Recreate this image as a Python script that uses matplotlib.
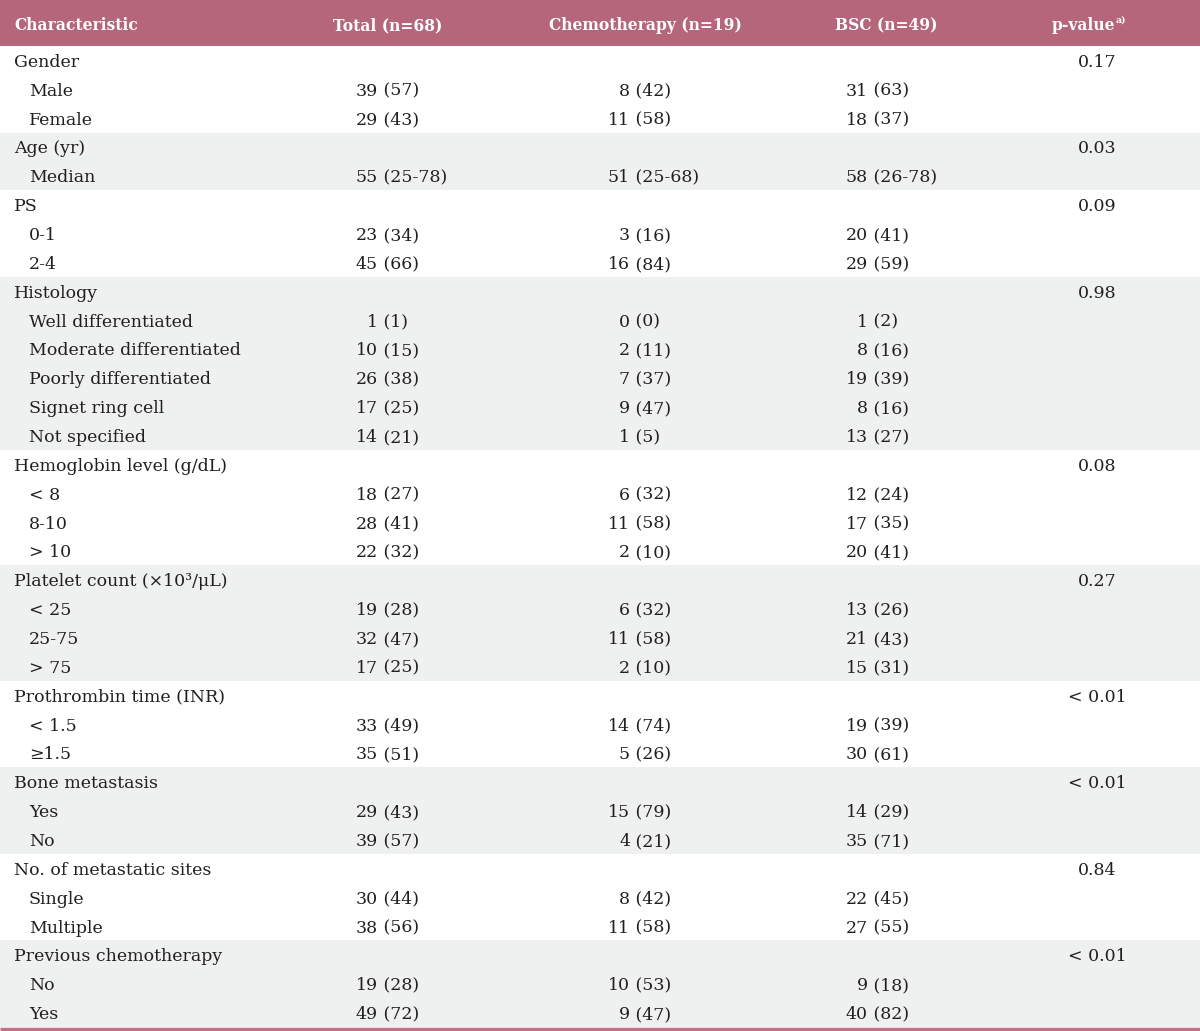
import matplotlib.pyplot as plt
from matplotlib.patches import Rectangle

# table content
headers = ["Characteristic", "Total (n=68)", "Chemotherapy (n=19)", "BSC (n=49)", "p-value"]
groups = ["Gender", "Age (yr)", "PS", "Histology", "Hemoglobin level (g/dL)",
          "Platelet count (\u00d710\u00b3/\u03bcL)", "Prothrombin time (INR)",
          "Bone metastasis", "No. of metastatic sites", "Previous chemotherapy"]
p_values = ["0.17", "0.03", "0.09", "0.98", "0.08", "0.27",
            "< 0.01", "< 0.01", "0.84", "< 0.01"]
sub_labels = [["Male", "Female"],
              ["Median"],
              ["0-1", "2-4"],
              ["Well differentiated", "Moderate differentiated",
               "Poorly differentiated", "Signet ring cell", "Not specified"],
              ["< 8", "8-10", "> 10"],
              ["< 25", "25-75", "> 75"],
              ["< 1.5", "\u22651.5"],
              ["Yes", "No"],
              ["Single", "Multiple"],
              ["No", "Yes"]]
total = [["39 (57)", "29 (43)"],
         ["55 (25-78)"],
         ["23 (34)", "45 (66)"],
         ["1 (1)", "10 (15)", "26 (38)", "17 (25)", "14 (21)"],
         ["18 (27)", "28 (41)", "22 (32)"],
         ["19 (28)", "32 (47)", "17 (25)"],
         ["33 (49)", "35 (51)"],
         ["29 (43)", "39 (57)"],
         ["30 (44)", "38 (56)"],
         ["19 (28)", "49 (72)"]]
chemo = [["8 (42)", "11 (58)"],
         ["51 (25-68)"],
         ["3 (16)", "16 (84)"],
         ["0 (0)", "2 (11)", "7 (37)", "9 (47)", "1 (5)"],
         ["6 (32)", "11 (58)", "2 (10)"],
         ["6 (32)", "11 (58)", "2 (10)"],
         ["14 (74)", "5 (26)"],
         ["15 (79)", "4 (21)"],
         ["8 (42)", "11 (58)"],
         ["10 (53)", "9 (47)"]]
bsc = [["31 (63)", "18 (37)"],
       ["58 (26-78)"],
       ["20 (41)", "29 (59)"],
       ["1 (2)", "8 (16)", "19 (39)", "8 (16)", "13 (27)"],
       ["12 (24)", "17 (35)", "20 (41)"],
       ["13 (26)", "21 (43)", "15 (31)"],
       ["19 (39)", "30 (61)"],
       ["14 (29)", "35 (71)"],
       ["22 (45)", "27 (55)"],
       ["9 (18)", "40 (82)"]]

W, H = 1200, 1031
head_col = "#b5667a"
shade_col = "#eff0f0"
txt_col = "#231f20"
fs = 12.5
hfs = 11.2

fig = plt.figure(figsize=(W / 100, H / 100), dpi=100)
ax = fig.add_axes([0, 0, 1, 1])
ax.set_xlim(0, W)
ax.set_ylim(H, 0)
ax.axis("off")

top, bottom = 46, 1027
n_rows = sum(1 + len(s) for s in sub_labels)
row_h = (bottom - top) / n_rows

# header band
ax.add_patch(Rectangle((0, 0), W, top, fc=head_col, ec="none"))
hdr = dict(color="white", fontweight="bold", fontsize=hfs, va="center_baseline",
           family="DejaVu Serif")
hy = top / 2 + 1
ax.text(14, hy, headers[0], ha="left", **hdr)
ax.text(388, hy, headers[1], ha="center", **hdr)
ax.text(645, hy, headers[2], ha="center", **hdr)
ax.text(886, hy, headers[3], ha="center", **hdr)
ax.text(1115, hy, headers[4], ha="right", **hdr)
ax.text(1116, hy - 5, "a)", ha="left", color="white", fontweight="bold",
        fontsize=hfs * 0.6, va="center_baseline", family="DejaVu Serif")

kw = dict(color=txt_col, fontsize=fs, va="center_baseline", family="DejaVu Serif")
count_x = [378, 630, 868]


def cell(x, y, s):
    n, rest = s.split(" ", 1)
    ax.text(x, y, n, ha="right", **kw)
    ax.text(x, y, " " + rest, ha="left", **kw)


r = 0
for g, (name, pv) in enumerate(zip(groups, p_values)):
    n_sub = len(sub_labels[g])
    y0 = top + r * row_h
    if g % 2 == 1:
        ax.add_patch(Rectangle((0, y0), W, (n_sub + 1) * row_h, fc=shade_col, ec="none"))
    yc = y0 + row_h / 2
    ax.text(14, yc, name, ha="left", **kw)
    ax.text(1097, yc, pv, ha="center", **kw)
    for j, lab in enumerate(sub_labels[g]):
        y = y0 + (j + 1.5) * row_h
        ax.text(29, y, lab, ha="left", **kw)
        cell(count_x[0], y, total[g][j])
        cell(count_x[1], y, chemo[g][j])
        cell(count_x[2], y, bsc[g][j])
    r += n_sub + 1

ax.plot([0, W], [bottom + 2, bottom + 2], color="#c27088", lw=2.5,
        solid_capstyle="butt")

fig.savefig("out.png", dpi=100)
